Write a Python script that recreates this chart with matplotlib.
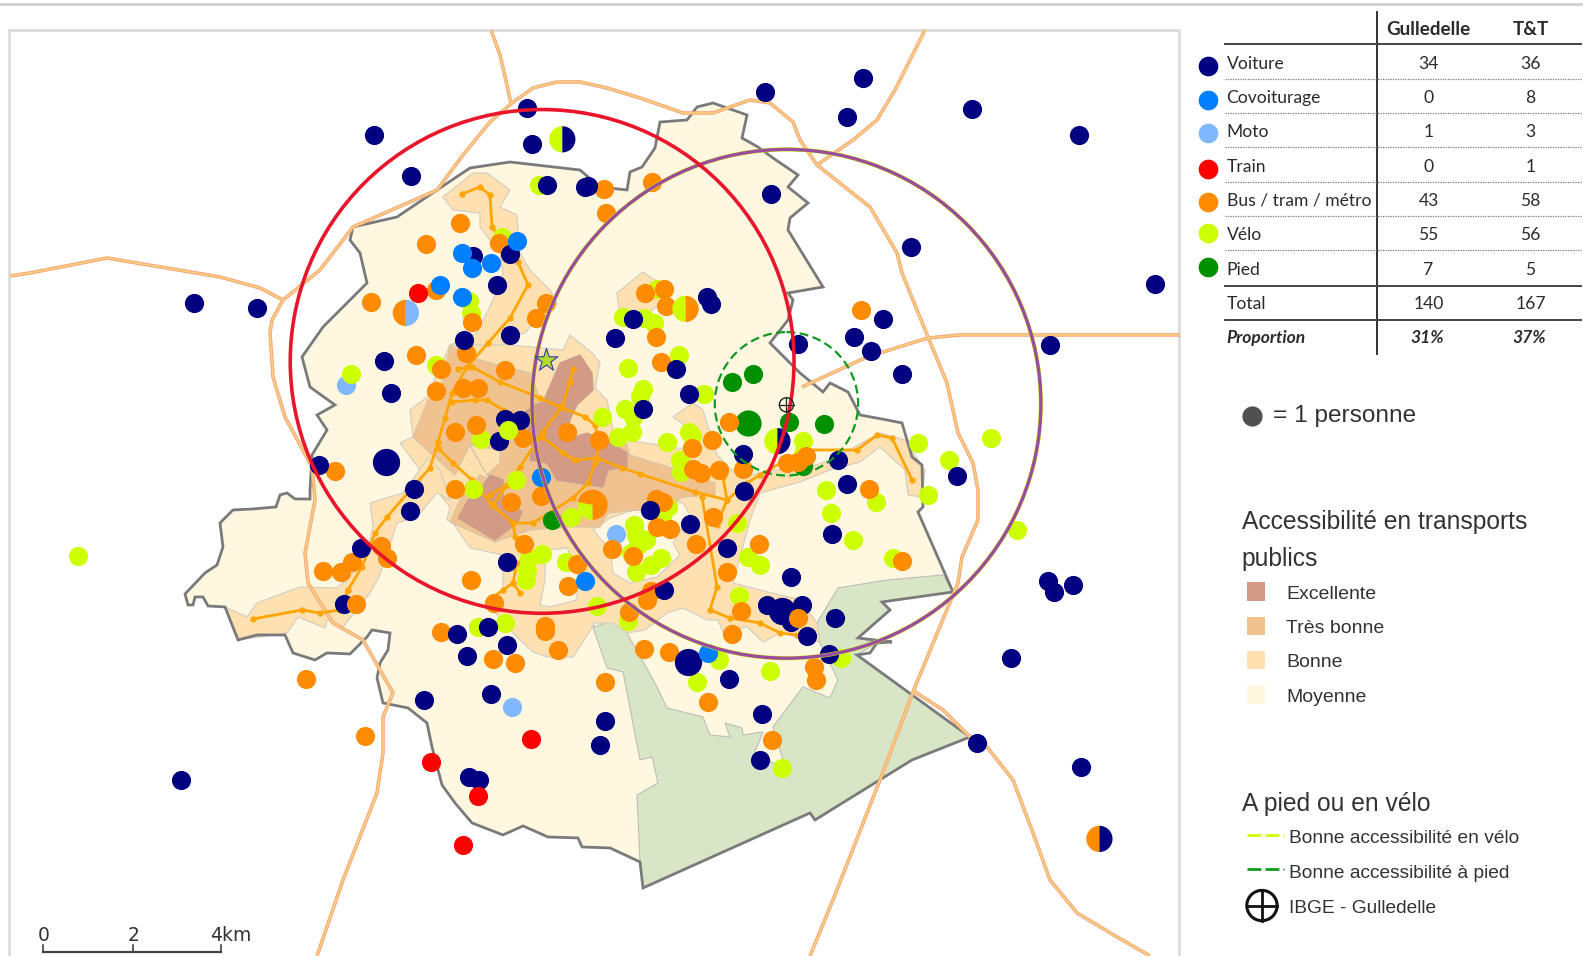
"""Map of commuting modes around Gulledelle, with the access table beside it."""

import matplotlib
matplotlib.use("Agg")
import matplotlib.pyplot as plt
from matplotlib.patches import Circle, Polygon, Rectangle, Wedge

# table
modes = ["Voiture", "Covoiturage", "Moto", "Train", "Bus / tram / métro", "Vélo", "Pied"]
gulledelle = [34, 0, 1, 0, 43, 55, 7]
tt = [36, 8, 3, 1, 58, 56, 5]
mode_colors = ["#000080", "#0080FF", "#80B8FF", "#FF0000", "#FF8C00", "#CCFF00", "#009000"]

# points, in map units
voiture = [(522, 107), (758, 91), (855, 77), (839, 116), (963, 108), (1069, 134), (370, 134), (527, 143),
           (407, 174), (542, 183), (579, 185), (582, 184), (764, 192), (902, 245), (1144, 281), (192, 300),
           (255, 305), (469, 254), (505, 252), (492, 282), (505, 332), (460, 337), (380, 358), (387, 389),
           (609, 335), (627, 316), (700, 294), (704, 301), (846, 334), (875, 316), (863, 348), (790, 341),
           (1040, 342), (893, 370), (670, 366), (682, 390), (637, 405), (500, 415), (515, 416), (494, 437),
           (736, 450), (830, 456), (839, 479), (948, 472), (737, 486), (316, 461), (410, 484), (406, 506),
           (358, 543), (502, 557), (644, 505), (683, 519), (824, 529), (720, 543), (784, 572), (658, 584),
           (341, 598), (1038, 576), (1044, 586), (1063, 579), (760, 599), (794, 599), (827, 612), (784, 616),
           (799, 630), (453, 628), (483, 621), (502, 639), (463, 650), (821, 648), (1001, 652), (722, 673),
           (486, 687), (420, 693), (755, 707), (599, 714), (594, 738), (753, 753), (968, 736), (1071, 760),
           (179, 773), (465, 770), (474, 773)]
voiture_big = [(382, 458), (681, 656), (775, 605)]
covoiturage = [(512, 239), (458, 251), (468, 265), (486, 261), (436, 282), (458, 294), (536, 473), (579, 576),
               (701, 647)]
moto = [(343, 381), (610, 529), (507, 700)]
train = [(414, 290), (526, 732), (427, 755), (473, 789), (459, 837)]
bus = [(598, 187), (646, 180), (600, 211), (456, 221), (422, 242), (494, 241), (367, 299), (432, 287),
       (468, 319), (541, 300), (531, 315), (639, 290), (660, 303), (658, 286), (650, 334), (655, 359),
       (853, 307), (412, 352), (462, 350), (437, 366), (500, 367), (432, 387), (459, 384), (473, 384),
       (451, 428), (471, 421), (518, 434), (562, 428), (593, 436), (722, 418), (705, 436), (332, 467),
       (451, 484), (506, 497), (536, 491), (685, 444), (686, 465), (694, 469), (712, 466), (736, 465),
       (780, 459), (790, 458), (798, 452), (861, 484), (519, 539), (606, 544), (627, 551), (572, 559),
       (563, 580), (467, 575), (377, 541), (383, 553), (349, 557), (338, 567), (320, 566),
       (489, 597), (641, 594), (645, 585), (651, 522), (664, 524), (689, 539), (706, 512), (720, 567),
       (752, 539), (893, 556), (734, 605), (540, 620), (540, 625), (437, 626), (553, 644), (488, 653),
       (510, 657), (623, 606), (638, 643), (663, 646), (725, 628), (303, 673), (806, 661),
       (808, 674), (599, 676), (701, 695), (362, 729), (765, 733), (650, 494), (657, 497)]
bus_top = [(790, 612), (353, 598)]
velo = [(534, 183), (497, 235), (465, 298), (467, 310), (348, 370), (432, 362), (617, 314), (638, 315),
        (648, 320), (651, 286), (622, 365), (673, 352), (697, 390), (637, 385), (634, 392), (596, 413),
        (619, 405), (627, 413), (626, 428), (612, 433), (476, 435), (661, 438), (682, 428),
        (685, 432), (674, 456), (675, 468), (909, 439), (982, 434), (940, 456), (919, 490), (818, 485),
        (868, 497), (823, 508), (845, 535), (1007, 525), (885, 553), (511, 475), (469, 484), (566, 512),
        (628, 520), (630, 530), (658, 500), (662, 502), (656, 512), (640, 535), (632, 540), (625, 548),
        (655, 553), (645, 560), (630, 567), (537, 549), (524, 553), (522, 565), (521, 575), (500, 617),
        (561, 557), (591, 600), (622, 615), (473, 621), (730, 518), (741, 552), (753, 560), (732, 590),
        (712, 654), (690, 676), (763, 665), (833, 652), (775, 761), (77, 551), (795, 437), (795, 450)]
velo_top = [(503, 426)]
pied = [(746, 370), (725, 378), (782, 418), (816, 420), (547, 515), (795, 462)]
pied_big = [(741, 419)]

# points shared by two modes: x, y, left colour, right colour
split_points = [(557, 138, 5, 0), (1089, 831, 4, 0), (770, 437, 5, 0), (402, 310, 4, 2), (679, 306, 5, 4)]

# areas, in source pixels
region_outline = [(310, 490), (310, 499), (295, 499), (287, 493), (280, 495), (276, 507), (253, 509), (233, 510),
                  (220, 523), (223, 547), (217, 565), (205, 573), (185, 594), (188, 605), (193, 605), (195, 597),
                  (203, 597), (208, 606), (225, 607), (238, 640), (257, 635), (285, 635), (293, 653), (315, 660),
                  (327, 653), (350, 654), (367, 637), (372, 630), (390, 633), (388, 650), (380, 663), (377, 678),
                  (383, 703), (408, 708), (427, 723), (432, 747), (442, 785), (455, 803), (472, 823), (503, 835),
                  (523, 826), (548, 837), (578, 838), (582, 847), (610, 848), (640, 862), (643, 888), (810, 813),
                  (815, 820), (912, 760), (970, 737), (857, 655), (870, 653), (877, 643), (892, 642), (858, 638),
                  (890, 610), (882, 602), (953, 592), (918, 512), (923, 507), (922, 465), (912, 457), (902, 423),
                  (887, 420), (860, 415), (848, 392), (830, 383), (823, 392), (800, 373), (770, 343), (788, 320),
                  (793, 300), (788, 293), (823, 287), (788, 230), (790, 218), (808, 203), (788, 187), (798, 175),
                  (773, 158), (758, 147), (742, 138), (747, 115), (713, 103), (697, 107), (687, 120), (660, 122),
                  (655, 148), (642, 167), (630, 172), (627, 190), (600, 187), (580, 170), (510, 162), (470, 168),
                  (437, 190), (397, 217), (353, 227), (350, 240), (360, 253), (367, 283), (323, 327), (302, 357),
                  (310, 387), (335, 405), (317, 415), (327, 430), (312, 455)]
forest = [(593, 627), (617, 620), (627, 633), (657, 687), (667, 708), (703, 717), (710, 735), (730, 737), (725, 723),
          (742, 728), (743, 735), (763, 732), (755, 752), (773, 763), (785, 767), (773, 727), (803, 687), (830, 698),
          (838, 680), (820, 643), (817, 623), (838, 588), (887, 580), (943, 575), (953, 592), (882, 602), (890, 610),
          (858, 638), (877, 643), (857, 655), (970, 737), (912, 760), (815, 820), (810, 813), (643, 888), (640, 862),
          (637, 795), (658, 783), (652, 757), (640, 760), (623, 672), (607, 668)]
bonne_areas = [
    [(443, 197), (473, 173), (487, 173), (510, 190), (500, 207), (517, 215), (520, 253), (530, 270), (550, 290),
     (557, 303), (543, 310), (525, 333), (510, 337), (507, 357), (450, 345), (477, 333), (493, 300), (503, 273),
     (500, 253), (480, 227), (480, 213), (453, 210)],
    [(400, 443), (413, 437), (410, 410), (427, 397), (450, 345), (510, 345), (563, 350), (570, 335), (592, 353),
     (600, 363), (595, 388), (607, 400), (613, 430), (627, 440), (690, 450), (692, 430), (673, 417), (693, 403),
     (703, 410), (717, 455), (740, 478), (770, 470), (800, 470), (825, 462), (840, 455), (880, 433), (905, 440),
     (925, 470), (922, 497), (908, 495), (905, 470), (880, 447), (860, 462), (830, 470), (800, 482), (760, 493),
     (750, 520), (733, 583), (760, 590), (800, 600), (817, 623), (820, 642), (780, 633), (763, 642), (747, 627),
     (723, 632), (718, 620), (707, 620), (683, 608), (667, 613), (645, 630), (627, 633), (613, 623), (595, 623),
     (573, 657), (547, 657), (533, 652), (517, 637), (490, 607), (485, 603), (503, 590), (503, 555), (470, 548),
     (453, 523), (447, 520), (450, 507), (420, 470)],
    [(225, 607), (238, 640), (287, 633), (298, 617), (325, 628), (327, 620), (343, 627), (370, 593), (380, 575),
     (397, 523), (417, 517), (437, 493), (450, 500), (440, 470), (428, 458), (403, 493), (370, 503), (373, 527),
     (367, 550), (350, 577), (337, 588), (300, 587), (257, 603), (247, 617)],
    [(617, 293), (643, 272), (662, 285), (665, 300), (640, 320), (620, 318)],
]
moyenne_pockets = [
    [(545, 550), (567, 548), (578, 570), (577, 600), (550, 607), (540, 605), (545, 580)],
    [(593, 530), (610, 518), (633, 510), (642, 497), (683, 503), (690, 515), (673, 543), (680, 555), (657, 577),
     (630, 583), (613, 573), (610, 550)],
]
tres_bonne_areas = [
    [(413, 437), (428, 400), (440, 395), (450, 345), (472, 358), (530, 373), (540, 400), (520, 450), (560, 440),
     (625, 440), (630, 455), (693, 475), (715, 483), (715, 495), (683, 497), (655, 515), (640, 510), (608, 513),
     (600, 527), (567, 527), (530, 530), (495, 542), (450, 522), (460, 500), (480, 475), (490, 480), (470, 445),
     (455, 475), (438, 460)],
]
bonne_holes = [[(470, 445), (500, 450), (500, 463), (487, 475)]]
excellente_areas = [
    [(543, 402), (560, 363), (580, 355), (592, 373), (593, 390), (577, 405), (570, 420), (565, 440), (587, 433),
     (610, 442), (627, 453), (627, 467), (608, 470), (603, 487), (577, 483), (557, 480), (547, 463), (530, 460),
     (532, 447), (525, 412), (535, 405)],
    [(458, 518), (468, 500), (480, 490), (490, 475), (503, 480), (503, 497), (522, 512), (517, 523), (495, 540)],
]

# lines, in source pixels
tram_lines = [
    [(458, 369), (472, 367), (500, 382), (540, 398), (560, 407), (585, 417), (595, 425), (599, 443), (595, 463),
     (588, 483), (573, 498), (533, 523), (513, 523), (492, 505), (472, 480), (453, 463), (438, 448)],
    [(462, 194), (480, 187), (490, 195), (492, 227), (518, 262), (528, 285), (510, 318), (488, 343), (467, 367),
     (452, 393), (445, 418), (438, 442), (430, 468), (413, 487), (387, 517), (375, 533), (362, 567), (348, 590)],
    [(573, 369), (570, 382), (562, 407), (543, 432), (520, 467), (507, 485), (493, 505)],
    [(542, 437), (563, 453), (575, 460), (597, 458), (622, 468), (640, 474), (695, 492), (727, 500), (747, 483),
     (760, 475), (803, 450), (857, 450), (877, 435), (892, 438), (912, 480)],
    [(452, 402), (475, 400), (487, 400), (503, 410)],
    [(702, 497), (717, 587), (710, 610), (730, 618), (760, 623), (780, 633), (797, 635)],
    [(723, 477), (727, 500), (717, 525)],
    [(253, 619), (302, 610), (320, 613), (340, 610), (348, 590)],
    [(517, 563), (513, 583), (503, 590), (493, 597)],
    [(513, 583), (520, 593)],
    [(513, 523), (515, 537)],
    [(490, 495), (507, 485)],
]
roads = [
    [(491, 30), (500, 55), (507, 85), (511, 104)],
    [(10, 276), (30, 273), (107, 258), (220, 277), (260, 288), (283, 300), (320, 270), (353, 227), (437, 190),
     (463, 155), (490, 122), (512, 103), (533, 88), (557, 82), (580, 82), (607, 88), (640, 98), (683, 113), (713, 113),
     (750, 100), (770, 103), (793, 122), (800, 140), (817, 165), (870, 207), (897, 253), (902, 273), (928, 337),
     (947, 383), (958, 433), (973, 463), (978, 490), (978, 520), (962, 557), (958, 583), (915, 687), (880, 780),
     (833, 900), (810, 956)],
    [(283, 300), (272, 320), (270, 333), (273, 377), (285, 417), (312, 467), (315, 500), (305, 553), (308, 583),
     (333, 623), (363, 640), (393, 693), (383, 717), (383, 753), (377, 793), (343, 880), (317, 956)],
    [(925, 30), (895, 90), (877, 120), (853, 140), (817, 165)],
    [(802, 387), (867, 357), (928, 338), (960, 335), (1180, 335)],
    [(915, 692), (943, 710), (970, 737), (987, 747), (1013, 780), (1033, 833), (1050, 880), (1077, 913), (1117, 937),
     (1150, 956)],
]

W, H = 1568, 947
SCALE = 1583 / W
fig = plt.figure(figsize=(15.83, 9.56), dpi=100)
ax = fig.add_axes([0, 0, 1, 1])
ax.set_xlim(0, W)
ax.set_ylim(H, 0)
ax.axis("off")

SANS = "Liberation Sans"
TABLE = "Lato"
INK = "#2B2B2B"
UNIT_PT = 72 / 100 * SCALE


def px(points):
    return [(x / SCALE, y / SCALE) for x, y in points]


def dots(points, color, r=9.5, z=5):
    xs, ys = zip(*points)
    size = (2 * r * UNIT_PT) ** 2
    ax.scatter(xs, ys, s=size, color=color, linewidths=0, zorder=z)


def areas(polys, color, edge=None, z=2):
    for poly in polys:
        ax.add_patch(Polygon(px(poly), closed=True, facecolor=color, edgecolor=edge or color, lw=0.9, zorder=z))


ax.plot([0, W], [4, 4], color="#CFCFCF", lw=2, zorder=1)

ax.add_patch(Rectangle((9, 30), 1159, 925, facecolor="white", edgecolor="#DDDDDD", lw=2, zorder=1))

ax.add_patch(Polygon(px(region_outline), closed=True, facecolor="#FFF7E0", edgecolor="none", zorder=2))
ax.add_patch(Polygon(px(forest), closed=True, facecolor="#D9E6C6", edgecolor="#BDBDBD", lw=0.8, zorder=2.1))
areas(bonne_areas, "#FFE0B0", "#D4CFC2", 2.2)
areas(moyenne_pockets, "#FFF7E0", "#D4CFC2", 2.25)
areas(tres_bonne_areas, "#F0C290", "#D8C4A8", 2.3)
areas(bonne_holes, "#FFE0B0", "#D8C4A8", 2.35)
areas(excellente_areas, "#D39A85", "#C4A090", 2.4)
ax.add_patch(Polygon(px(region_outline), closed=True, fill=False, edgecolor="#7A7A7A", lw=2, zorder=2.5))

for road in roads:
    xs, ys = zip(*px(road))
    ax.plot(xs, ys, color="#F4A77A", lw=2.6, zorder=3, solid_joinstyle="round", solid_capstyle="butt")
    ax.plot(xs, ys, color="#FFD27F", lw=1.1, zorder=3.1, solid_joinstyle="round", solid_capstyle="butt")
for line in tram_lines:
    xs, ys = zip(*px(line))
    ax.plot(xs, ys, color="#FFA500", lw=2, zorder=3.5, marker="o", ms=3.5, solid_joinstyle="round")

dots(pied, mode_colors[6])
dots(pied_big, mode_colors[6], r=13)
dots(moto, mode_colors[2], z=5.05)
dots(velo, mode_colors[5], z=5.1)
dots(bus, mode_colors[4], z=5.2)
dots(voiture, mode_colors[0], z=5.3)
dots(voiture_big, mode_colors[0], r=13.5, z=5.3)
dots(bus_top, mode_colors[4], z=5.35)
dots(velo_top, mode_colors[5], z=5.35)
dots(covoiturage, mode_colors[1], z=5.4)
dots(train, mode_colors[3], z=5.4)
for x, y, left, right in split_points:
    ax.add_patch(Wedge((x, y), 13, 90, 270, facecolor=mode_colors[left], edgecolor="none", zorder=5.5))
    ax.add_patch(Wedge((x, y), 13, 270, 90, facecolor=mode_colors[right], edgecolor="none", zorder=5.5))
# bigger dot: mostly bus, with a slice of bike
ax.add_patch(Wedge((587, 500), 15, 90, 190, facecolor=mode_colors[5], edgecolor="none", zorder=5.5))
ax.add_patch(Wedge((587, 500), 15, 190, 90, facecolor=mode_colors[4], edgecolor="none", zorder=5.5))

# catchment circles
ax.add_patch(Circle((779, 400), 252, fill=False, edgecolor="#CCFF00", lw=3, zorder=6))
ax.add_patch(Circle((537, 358), 249.5, fill=False, edgecolor="#E8152B", lw=2.6, zorder=6.2))
ax.add_patch(Circle((779, 400), 252, fill=False, edgecolor="#9B4BA0", lw=2.4, zorder=6.1))
ax.add_patch(Circle((779, 400), 71, fill=False, edgecolor="#109A20", lw=1.6, ls=(0, (4, 2)), zorder=6.05))

ax.scatter([541], [357], marker="*", s=300, facecolor="#B4DC28", edgecolor="#3040B0", lw=0.8, zorder=7)
ax.add_patch(Circle((779, 401), 7, fill=False, edgecolor="#222222", lw=1, zorder=7))
ax.plot([772, 786], [401, 401], color="#222222", lw=0.9, zorder=7)
ax.plot([779, 779], [394, 408], color="#222222", lw=0.9, zorder=7)

# scale bar
scale_x = [43, 132, 219]
ax.plot([scale_x[0], scale_x[2]], [943, 943], color="#444444", lw=1.6, zorder=8)
for x, lab in zip(scale_x, ["0", "2", "4km"]):
    ax.plot([x, x], [936, 943], color="#444444", lw=1.2, zorder=8)
    ax.text(x if lab != "4km" else x - 11, 927, lab, fontsize=13.5, color="#333333", family="DejaVu Sans",
            ha="center" if lab != "4km" else "left", va="center", zorder=8)

# table
rows_y = [62, 96, 130, 164, 198, 232, 266]
dots_y = [65, 99, 132, 167, 200, 231, 264]
col1, col2 = 1415, 1516
TXT = 12.6
ax.plot([1364, 1364], [12, 351], color="#222222", lw=1.3)
ax.plot([1213, 1566], [44, 44], color="#444444", lw=1.4)
ax.plot([1213, 1566], [283, 283], color="#444444", lw=1.4)
ax.plot([1213, 1566], [317, 317], color="#444444", lw=1.4)
for y in [78, 112, 146, 180, 214, 248]:
    ax.plot([1213, 1566], [y, y], color="#777777", lw=0.9, ls=(0, (1, 1)))
ax.text(col1, 29, "Gulledelle", fontsize=13.6, fontweight="bold", family=TABLE, ha="center", va="center", color=INK)
ax.text(col2, 29, "T&T", fontsize=13.6, fontweight="bold", family=TABLE, ha="center", va="center", color=INK)
for i, name in enumerate(modes):
    ax.scatter([1197], [dots_y[i]], s=(19.5 * UNIT_PT) ** 2, color=mode_colors[i], linewidths=0)
    ax.text(1215, rows_y[i] + 1, name, fontsize=TXT, family=TABLE, va="center", color=INK)
    ax.text(col1, rows_y[i] + 1, str(gulledelle[i]), fontsize=TXT, family=TABLE, ha="center", va="center", color=INK)
    ax.text(col2, rows_y[i] + 1, str(tt[i]), fontsize=TXT, family=TABLE, ha="center", va="center", color=INK)
ax.text(1215, 301, "Total", fontsize=TXT, family=TABLE, va="center", color=INK)
ax.text(col1, 301, str(sum(gulledelle)), fontsize=TXT, family=TABLE, ha="center", va="center", color=INK)
ax.text(col2, 301, str(sum(tt)), fontsize=TXT, family=TABLE, ha="center", va="center", color=INK)
ax.text(1215, 335, "Proportion", fontsize=TXT, fontweight="bold", style="italic", family=TABLE, va="center", color=INK)
ax.text(col1 - 1, 335, "31%", fontsize=TXT, fontweight="bold", style="italic", family=TABLE, ha="center", va="center", color=INK)
ax.text(col2 - 1, 335, "37%", fontsize=TXT, fontweight="bold", style="italic", family=TABLE, ha="center", va="center", color=INK)

# legend
ax.scatter([1240], [412], s=(20 * UNIT_PT) ** 2, color="#505050", linewidths=0)
ax.text(1261, 412.5, "= 1 personne", fontsize=17.6, family=SANS, va="center", color="#333333")
ax.text(1230, 517, "Accessibilité en transports", fontsize=17.7, family=SANS, va="center", color="#333333")
ax.text(1230, 554, "publics", fontsize=17.7, family=SANS, va="center", color="#333333")
legend_labels = ["Excellente", "Très bonne", "Bonne", "Moyenne"]
legend_colors = ["#D39A85", "#F0C290", "#FFE0B0", "#FFF7E0"]
for i, (lab, col) in enumerate(zip(legend_labels, legend_colors)):
    y = 587 + i * 34
    ax.add_patch(Rectangle((1235, y - 10), 18, 18, facecolor=col, edgecolor="none"))
    ax.text(1274, y + 1.5, lab, fontsize=14, family=SANS, va="center", color="#333333")
ax.text(1230, 796, "A pied ou en vélo", fontsize=17.7, family=SANS, va="center", color="#333333")
ax.plot([1235, 1272], [827, 827], color="#CCFF00", lw=2, ls=(0, (5, 1.5)))
ax.plot([1235, 1272], [861, 861], color="#109A20", lw=2, ls=(0, (5, 1.5)))
ax.text(1277, 831, "Bonne accessibilité en vélo", fontsize=13.8, family=SANS, va="center", color="#333333")
ax.text(1277, 865, "Bonne accessibilité à pied", fontsize=13.8, family=SANS, va="center", color="#333333")
ax.add_patch(Circle((1250, 897), 15, fill=False, edgecolor="#111111", lw=2.2))
ax.plot([1235, 1265], [897, 897], color="#111111", lw=2)
ax.plot([1250, 1250], [882, 912], color="#111111", lw=2)
ax.text(1277, 900, "IBGE - Gulledelle", fontsize=13.8, family=SANS, va="center", color="#333333")

fig.savefig("out.png", dpi=100)
plt.close(fig)
